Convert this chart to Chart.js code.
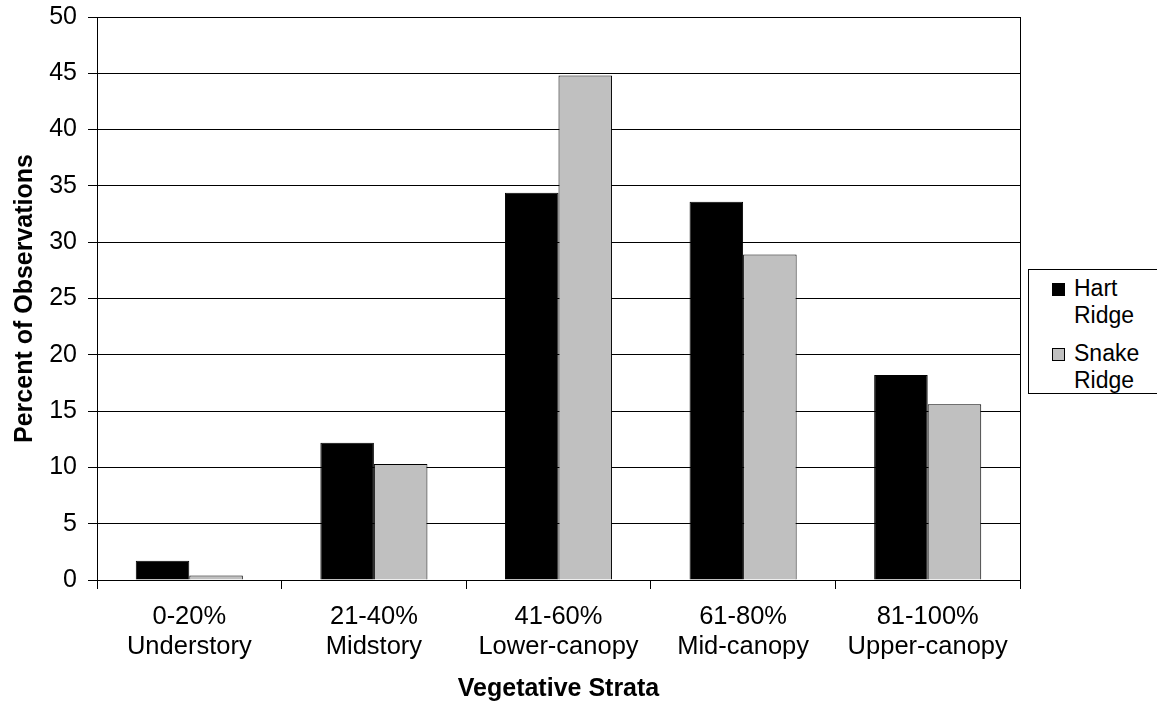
<!DOCTYPE html>
<html lang="en">
<head>
    <meta charset="UTF-8">
    <title>Vegetative Strata</title>
    <script src="https://cdn.jsdelivr.net/npm/chart.js"></script>
    <style>
        body {
            margin: 0;
            background: white;
            font-family: 'Liberation Sans', Arial, sans-serif;
        }

        #wrap {
            position: relative;
            width: 1157px;
            height: 708px;
            overflow: hidden;
        }

        #legend {
            position: absolute;
            left: 1028px;
            top: 269px;
            width: 140px;
            height: 123px;
            border: 1px solid #000;
            background: white;
            font-size: 23px;
            line-height: 27px;
            color: #000;
        }

        .item {
            position: absolute;
            left: 23px;
            padding-left: 22px;
        }

        .item span {
            position: absolute;
            left: 0;
            top: 8px;
            width: 13px;
            height: 13px;
            border: 1px solid #000;
            box-sizing: border-box;
        }
    </style>
</head>
<body>
    <div id="wrap">
        <canvas id="chart" width="1157" height="708"></canvas>
        <div id="legend"></div>
    </div>

    <script>
        // data
        const categories = [
            ['0-20%', 'Understory'],
            ['21-40%', 'Midstory'],
            ['41-60%', 'Lower-canopy'],
            ['61-80%', 'Mid-canopy'],
            ['81-100%', 'Upper-canopy']
        ];
        const hartRidge = [1.7, 12.2, 34.4, 33.6, 18.2];
        const snakeRidge = [0.4, 10.3, 44.8, 28.9, 15.6];
        const seriesNames = [['Hart', 'Ridge'], ['Snake', 'Ridge']];
        const seriesColors = ['#000000', '#c0c0c0'];

        // box round the plot area, like the Excel plot border
        const plotBorder = {
            id: 'plotBorder',
            afterDraw(chart) {
                const a = chart.chartArea;
                const ctx = chart.ctx;
                ctx.save();
                ctx.strokeStyle = '#000';
                ctx.lineWidth = 1;
                ctx.strokeRect(a.left + 0.5, a.top + 0.5, a.right - a.left, a.bottom - a.top);
                ctx.restore();
            }
        };

        const family = "'Liberation Sans', Arial, sans-serif";

        new Chart(document.getElementById('chart'), {
            type: 'bar',
            data: {
                labels: categories,
                datasets: [
                    {
                        label: 'Hart Ridge',
                        data: hartRidge,
                        backgroundColor: seriesColors[0],
                        borderColor: '#000',
                        borderWidth: 1
                    },
                    {
                        label: 'Snake Ridge',
                        data: snakeRidge,
                        backgroundColor: seriesColors[1],
                        borderColor: '#000',
                        borderWidth: 1
                    }
                ]
            },
            options: {
                responsive: false,
                animation: false,
                layout: { padding: { left: 0, top: 17, right: 137, bottom: 0 } },
                datasets: {
                    bar: { barPercentage: 1, categoryPercentage: 0.58 }
                },
                plugins: {
                    legend: { display: false },
                    tooltip: { enabled: false }
                },
                scales: {
                    x: {
                        grid: {
                            drawOnChartArea: false,
                            tickLength: 9,
                            color: '#000'
                        },
                        border: { color: '#000' },
                        ticks: {
                            color: '#000',
                            font: { family: family, size: 25.5, lineHeight: 1.17 },
                            padding: 13
                        },
                        title: {
                            display: true,
                            text: 'Vegetative Strata',
                            color: '#000',
                            font: { family: family, size: 25, weight: 'bold' },
                            padding: { top: 0, bottom: 4 }
                        },
                        afterFit(scale) { scale.height = 128; }
                    },
                    y: {
                        min: 0,
                        max: 50,
                        ticks: {
                            stepSize: 5,
                            color: '#000',
                            font: { family: family, size: 25 },
                            padding: 11
                        },
                        grid: {
                            color: '#000',
                            tickLength: 9
                        },
                        border: { color: '#000' },
                        title: {
                            display: true,
                            text: 'Percent of Observations',
                            color: '#000',
                            font: { family: family, size: 25, weight: 'bold' },
                            padding: { top: 10, bottom: 0 }
                        },
                        afterFit(scale) {
                            scale.width = 97;
                            // let the top label hang over the padding instead of pushing the plot down
                            scale.paddingTop = 0;
                            scale.paddingBottom = 0;
                        }
                    }
                }
            },
            plugins: [plotBorder]
        });

        // legend with wrapped names
        const legend = document.getElementById('legend');
        seriesNames.forEach((name, i) => {
            const item = document.createElement('div');
            item.className = 'item';
            item.style.top = (5 + i * 65) + 'px';
            item.innerHTML = '<span style="background:' + seriesColors[i] + '"></span>' + name.join('<br>');
            legend.appendChild(item);
        });
    </script>
</body>
</html>
